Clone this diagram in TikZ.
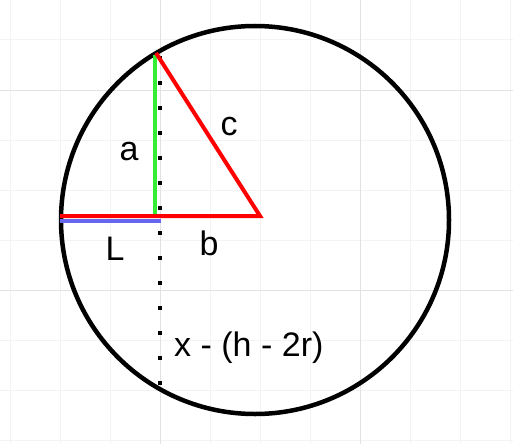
\documentclass[tikz,border=0pt]{standalone}
\usepackage{fontspec}
\setmainfont{Liberation Sans}
\definecolor{gridminor}{HTML}{F3F3F3}
\definecolor{gridmajor}{HTML}{E2E2E2}
\definecolor{myred}{HTML}{FF0000}
\definecolor{mygreen}{HTML}{33EE33}
\definecolor{myblue}{HTML}{6666EE}
\begin{document}
\begin{tikzpicture}[x=1pt,y=-1pt,
  lbl/.style={inner sep=0pt,font=\fontsize{34}{40}\selectfont},
  thick4/.style={line width=4pt},
  dotline/.style={line width=4pt,dash pattern=on 4pt off 21pt}]
\useasboundingbox[fill=white] (0,0) rectangle (513,444);
% grid
\foreach \gx in {10,60,110,210,260,310,410,460,510}
  \draw[gridminor,line width=1pt] (\gx,0) -- (\gx,444);
\foreach \gy in {40,140,190,240,340,390,440}
  \draw[gridminor,line width=1pt] (0,\gy) -- (513,\gy);
\foreach \gx in {160,360}
  \draw[gridmajor,line width=1pt] (\gx,0) -- (\gx,444);
\foreach \gy in {90,290}
  \draw[gridmajor,line width=1pt] (0,\gy) -- (513,\gy);
% points
\coordinate (O) at (255,220);
\coordinate (A) at (156,53);
\coordinate (G) at (155,55);
\coordinate (F) at (155,216);
\coordinate (R) at (260,216);
\coordinate (W) at (60,216);
\coordinate (BL) at (60,220.5);
\coordinate (BR) at (161,220.5);
\coordinate (DT) at (160,56);
\coordinate (DB) at (160,388);
% circle
\node[draw=black,line width=4.5pt,circle,minimum size=388pt,inner sep=0pt] (circ) at (O) {};
% dotted line
\draw[dotline] (DT) -- (DB);
% green, blue, red
\draw[thick4,mygreen] (G) -- (F);
\draw[thick4,myblue] (BL) -- (BR);
\draw[thick4,myred,line join=miter] (W) -- (R) -- (A);
% labels
\node[lbl,anchor=base] (la) at (129,160.5) {a};
\node[lbl,anchor=base] (lc) at (229,135) {c};
\node[lbl,anchor=base] (lL) at (115,260) {L};
\node[lbl,anchor=base] (lb) at (209,255.5) {b};
\node[lbl,anchor=base west] (lx) at (174,356.5) {x - (h - 2r)};
\end{tikzpicture}
\end{document}
